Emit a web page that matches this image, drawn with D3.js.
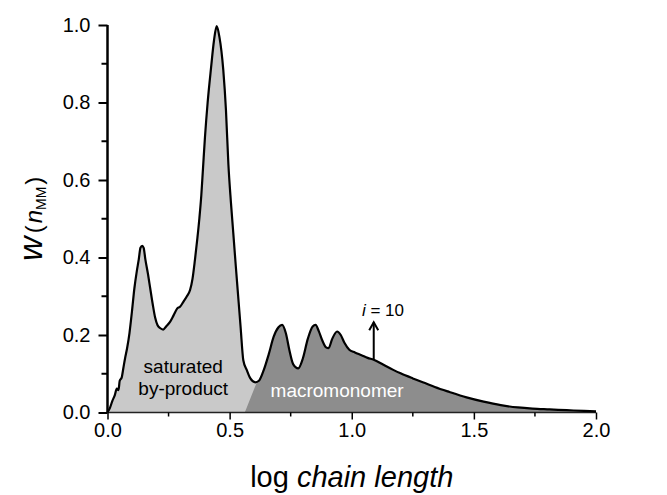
<!DOCTYPE html>
<html>
<head>
<meta charset="utf-8">
<script src="https://cdn.jsdelivr.net/npm/d3@7/dist/d3.min.js"></script>
<style>
  html, body { margin: 0; padding: 0; background: #fff; }
  svg { display: block; font-family: "Liberation Sans", Arial, sans-serif; }
</style>
</head>
<body>
<svg id="chart" width="667" height="495"></svg>
<script>
// Weight distribution w(n_MM) against log chain length
const logChainLength = [
  0.000, 0.010, 0.020, 0.030, 0.038, 0.045, 0.050, 0.058, 0.065, 0.072,
  0.080, 0.090, 0.100, 0.110, 0.120, 0.128, 0.135, 0.142, 0.148, 0.155,
  0.165, 0.175, 0.185, 0.195, 0.205, 0.215, 0.228, 0.240, 0.256, 0.270,
  0.285, 0.297, 0.310, 0.325, 0.338, 0.348, 0.358, 0.368, 0.376, 0.384,
  0.391, 0.399, 0.410, 0.424, 0.436, 0.447, 0.458, 0.474, 0.485,
  0.495, 0.505, 0.515, 0.525, 0.533, 0.545, 0.556, 0.570, 0.585, 0.605,
  0.620, 0.640, 0.660, 0.680, 0.700, 0.715, 0.730, 0.745, 0.760, 0.781,
  0.800, 0.820, 0.840, 0.852, 0.865, 0.880, 0.895, 0.905, 0.920, 0.940,
  0.955, 0.970, 0.990, 1.013, 1.040, 1.065, 1.090, 1.130, 1.170, 1.200,
  1.250, 1.300, 1.340, 1.400, 1.470, 1.540, 1.610, 1.680, 1.740, 1.810,
  1.880, 1.950, 2.000
];
const weightFraction = [
  0.000, 0.012, 0.030, 0.045, 0.062, 0.058, 0.082, 0.090, 0.115, 0.140,
  0.165, 0.205, 0.260, 0.320, 0.365, 0.395, 0.425, 0.430, 0.425, 0.395,
  0.360, 0.320, 0.280, 0.245, 0.225, 0.218, 0.214, 0.222, 0.234, 0.250,
  0.268, 0.273, 0.285, 0.300, 0.316, 0.345, 0.394, 0.450, 0.500, 0.560,
  0.630, 0.710, 0.800, 0.890, 0.960, 0.997, 0.970, 0.884, 0.780,
  0.640, 0.545, 0.463, 0.380, 0.316, 0.220, 0.135, 0.110, 0.088, 0.078,
  0.082, 0.110, 0.150, 0.195, 0.220, 0.226, 0.205, 0.160, 0.125, 0.114,
  0.140, 0.190, 0.222, 0.226, 0.210, 0.185, 0.168, 0.166, 0.190, 0.209,
  0.200, 0.180, 0.162, 0.155, 0.148, 0.141, 0.136, 0.123, 0.110, 0.101,
  0.088, 0.076, 0.066, 0.053, 0.039, 0.028, 0.019, 0.013, 0.010, 0.008,
  0.006, 0.004, 0.003
];

const xTickValues = [0, 0.5, 1.0, 1.5, 2.0];
const xMinorTicks = [0.25, 0.75, 1.25, 1.75];
const yTickValues = [0, 0.2, 0.4, 0.6, 0.8, 1.0];
const yMinorTicks = [0.1, 0.3, 0.5, 0.7, 0.9];

// Split between the by-product and macromonomer regions (foot on the axis, meeting point on the curve)
const splitFoot = [0.562, 0.0];
const splitTop = [0.612, 0.079];

// Arrow marking i = 10
const arrowX = 1.09;
const arrowFrom = 0.138;
const arrowTo = 0.233;

const svg = d3.select("#chart");
const x = d3.scaleLinear().domain([0, 2]).range([107.5, 596]);
const y = d3.scaleLinear().domain([0, 1]).range([412.5, 25]);

const data = logChainLength.map((v, i) => [v, weightFraction[i]]);

const area = d3.area()
  .x(d => x(d[0])).y0(y(0)).y1(d => y(d[1]))
  .curve(d3.curveMonotoneX);
const line = d3.line()
  .x(d => x(d[0])).y(d => y(d[1]))
  .curve(d3.curveMonotoneX);

// clip for the macromonomer part
const defs = svg.append("defs");
defs.append("clipPath").attr("id", "mmClip")
  .append("polygon")
  .attr("points", [
    [x(splitFoot[0]), y(splitFoot[1])],
    [x(splitTop[0]), y(splitTop[1])],
    [x(splitTop[0]), y(1.1)],
    [x(2.1), y(1.1)],
    [x(2.1), y(-0.1)],
    [x(splitFoot[0]), y(-0.1)]
  ].map(p => p.join(",")).join(" "));

svg.append("path").datum(data).attr("d", area).attr("fill", "#c9c9c9");
svg.append("path").datum(data).attr("d", area).attr("fill", "#8d8d8d")
  .attr("clip-path", "url(#mmClip)");

// x axis
const xAxis = svg.append("g").attr("transform", `translate(0,${y(0)})`);
xAxis.call(d3.axisBottom(x).tickValues(xTickValues).tickFormat(d3.format(".1f"))
  .tickSize(7).tickPadding(3));
xAxis.append("g").selectAll("line").data(xMinorTicks).join("line")
  .attr("x1", d => x(d)).attr("x2", d => x(d)).attr("y1", 0).attr("y2", 4)
  .attr("stroke", "#000").attr("stroke-width", 1.5);
xAxis.select(".domain").attr("stroke", "#222").attr("stroke-width", 1.5)
  .attr("d", `M${x(0)},0H${x(2)}`);
xAxis.selectAll(".tick line").attr("stroke-width", 1.5);
xAxis.selectAll(".tick text").attr("font-size", 20).attr("fill", "#000")
  .attr("font-family", "Liberation Sans, Arial, sans-serif");

// y axis
const yAxis = svg.append("g").attr("transform", `translate(${x(0)},0)`);
yAxis.call(d3.axisLeft(y).tickValues(yTickValues).tickFormat(d3.format(".1f"))
  .tickSize(9).tickPadding(8));
yAxis.append("g").selectAll("line").data(yMinorTicks).join("line")
  .attr("y1", d => y(d)).attr("y2", d => y(d)).attr("x1", 0).attr("x2", -6)
  .attr("stroke", "#000").attr("stroke-width", 2);
yAxis.select(".domain").attr("stroke", "#000").attr("stroke-width", 2.5)
  .attr("d", `M0,${y(0)}V${y(1)}`);
yAxis.selectAll(".tick line").attr("stroke-width", 2);
yAxis.selectAll(".tick text").attr("font-size", 20).attr("fill", "#000")
  .attr("font-family", "Liberation Sans, Arial, sans-serif");

// curve outline
svg.append("path").datum(data).attr("d", line)
  .attr("fill", "none").attr("stroke", "#000").attr("stroke-width", 2.2)
  .attr("stroke-linejoin", "round");

// region labels
svg.append("text").attr("x", x(0.31)).attr("y", y(0.102))
  .attr("text-anchor", "middle").attr("font-size", 19).text("saturated");
svg.append("text").attr("x", x(0.31)).attr("y", y(0.046))
  .attr("text-anchor", "middle").attr("font-size", 19).text("by-product");
svg.append("text").attr("x", x(0.94)).attr("y", y(0.04))
  .attr("text-anchor", "middle").attr("font-size", 19).attr("fill", "#fff")
  .text("macromonomer");

// arrow for i = 10
const arrow = svg.append("g").attr("stroke", "#000").attr("stroke-width", 2)
  .attr("fill", "none");
arrow.append("line")
  .attr("x1", x(arrowX)).attr("x2", x(arrowX))
  .attr("y1", y(arrowFrom)).attr("y2", y(arrowTo));
arrow.append("path")
  .attr("d", `M${x(arrowX) - 4.5},${y(arrowTo) + 8}L${x(arrowX)},${y(arrowTo)}L${x(arrowX) + 4.5},${y(arrowTo) + 8}`);

const iLabel = svg.append("text").attr("x", x(1.128)).attr("y", y(0.249))
  .attr("text-anchor", "middle").attr("font-size", 17);
iLabel.append("tspan").attr("font-style", "italic").text("i");
iLabel.append("tspan").text(" = 10");

// axis titles
const xTitle = svg.append("text").attr("x", x(1.0)).attr("y", 487)
  .attr("text-anchor", "middle").attr("font-size", 29);
xTitle.append("tspan").text("log ");
xTitle.append("tspan").attr("font-style", "italic").text("chain length");

const yTitle = svg.append("text")
  .attr("transform", `translate(42,${(y(0) + y(1)) / 2}) rotate(-90)`)
  .attr("text-anchor", "middle").attr("font-size", 24);
yTitle.append("tspan").attr("font-style", "italic").attr("font-size", 34).text("w");
yTitle.append("tspan").attr("dx", 3).text("(");
yTitle.append("tspan").attr("font-style", "italic").attr("dx", 2).text("n");
yTitle.append("tspan").attr("font-size", 14).attr("dy", 4).text("MM");
yTitle.append("tspan").attr("dy", -4).attr("dx", 2).text(")");
</script>
</body>
</html>
